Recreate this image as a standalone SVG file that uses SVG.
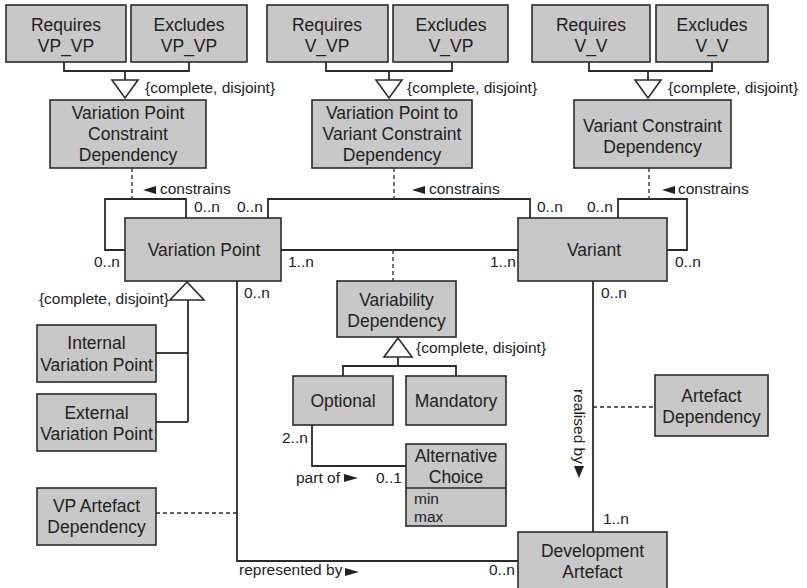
<svg xmlns="http://www.w3.org/2000/svg" width="807" height="588" viewBox="0 0 807 588">
<style>
.box{fill:#c8c8c8;stroke:#2b2b2b;stroke-width:1.6}
.t{font-family:"Liberation Sans",Arial,sans-serif;font-size:17.5px;fill:#222;text-anchor:middle}
.s{font-family:"Liberation Sans",Arial,sans-serif;font-size:15.5px;fill:#222}
.ln{fill:none;stroke:#2b2b2b;stroke-width:1.8}
.dash{fill:none;stroke:#2b2b2b;stroke-width:1.3;stroke-dasharray:4 3}
.tri{fill:#fff;stroke:#2b2b2b;stroke-width:1.6}
.arr{fill:#222}
</style>
<rect width="807" height="588" fill="#fff"/>
<g id="connectors">
<polyline class="ln" points="64,62 64,71 189,71 189,62"/>
<line class="ln" x1="125" y1="71" x2="125" y2="80"/>
<polygon class="tri" points="112,80 138,80 125,98"/>
<polyline class="ln" points="326,62 326,71 452,71 452,62"/>
<line class="ln" x1="389" y1="71" x2="389" y2="80"/>
<polygon class="tri" points="376,80 402,80 389,98"/>
<polyline class="ln" points="589,62 589,71 712,71 712,62"/>
<line class="ln" x1="648" y1="71" x2="648" y2="80"/>
<polygon class="tri" points="635,80 661,80 648,98"/>
<line class="dash" x1="132" y1="168" x2="132" y2="199"/>
<line class="dash" x1="394" y1="168" x2="394" y2="199"/>
<line class="dash" x1="649" y1="168" x2="649" y2="199"/>
<line class="dash" x1="393" y1="250" x2="393" y2="281"/>
<line class="dash" x1="156" y1="513" x2="237" y2="513"/>
<line class="dash" x1="593" y1="407" x2="655" y2="407"/>
<polyline class="ln" points="186,218 186,199 105,199 105,250 125,250"/>
<polyline class="ln" points="268,218 268,199 530,199 530,218"/>
<line class="ln" x1="281" y1="250" x2="518" y2="250"/>
<polyline class="ln" points="618,218 618,199 687,199 687,250 667,250"/>
<polygon class="tri" points="187,282 170,300 204,300"/>
<line class="ln" x1="188" y1="300" x2="188" y2="422"/>
<line class="ln" x1="156" y1="353" x2="188" y2="353"/>
<line class="ln" x1="156" y1="422" x2="188" y2="422"/>
<polyline class="ln" points="237,281 237,561 518,561"/>
<line class="ln" x1="593" y1="281" x2="593" y2="532"/>
<polygon class="tri" points="398,338 384,357 412,357"/>
<line class="ln" x1="398" y1="357" x2="398" y2="366"/>
<polyline class="ln" points="343,376 343,366 456,366 456,376"/>
<polyline class="ln" points="312,425 312,466 406,466"/>
<text class="s" x="145" y="93">{complete, disjoint}</text>
<text class="s" x="407" y="93">{complete, disjoint}</text>
<text class="s" x="668" y="93">{complete, disjoint}</text>
<text class="s" x="169" y="304" text-anchor="end">{complete, disjoint}</text>
<text class="s" x="416" y="353">{complete, disjoint}</text>
<polygon class="arr" points="143,190 156,186 156,194"/>
<text class="s" x="160" y="194">constrains</text>
<polygon class="arr" points="412,190 425,186 425,194"/>
<text class="s" x="429" y="194">constrains</text>
<polygon class="arr" points="662,190 675,186 675,194"/>
<text class="s" x="678" y="194">constrains</text>
<text class="s" x="194" y="212">0..n</text>
<text class="s" x="237" y="212">0..n</text>
<text class="s" x="94" y="267">0..n</text>
<text class="s" x="288" y="267">1..n</text>
<text class="s" x="490" y="267">1..n</text>
<text class="s" x="537" y="212">0..n</text>
<text class="s" x="587" y="212">0..n</text>
<text class="s" x="675" y="267">0..n</text>
<text class="s" x="244" y="298">0..n</text>
<text class="s" x="601" y="298">0..n</text>
<text class="s" x="282" y="443">2..n</text>
<text class="s" x="376" y="483">0..1</text>
<text class="s" x="296" y="483">part of</text>
<polygon class="arr" points="344,474 344,482 358,478"/>
<text class="s" x="603" y="524">1..n</text>
<text class="s" x="489" y="575">0..n</text>
<text class="s" x="239" y="575">represented by</text>
<polygon class="arr" points="345,568 345,576 359,572"/>
<text class="s" transform="translate(574,389) rotate(90)">realised by</text>
<polygon class="arr" points="574,466 584,466 579,478"/>
</g>
<g id="requires-vp-vp"><rect class="box" x="6" y="5" width="120" height="57"/><text class="t" x="66" y="31">Requires</text><text class="t" x="66" y="52">VP_VP</text></g>
<g id="excludes-vp-vp"><rect class="box" x="131" y="5" width="116" height="57"/><text class="t" x="189" y="31">Excludes</text><text class="t" x="189" y="52">VP_VP</text></g>
<g id="requires-v-vp"><rect class="box" x="267" y="5" width="121" height="57"/><text class="t" x="327" y="31">Requires</text><text class="t" x="327" y="52">V_VP</text></g>
<g id="excludes-v-vp"><rect class="box" x="393" y="5" width="115" height="57"/><text class="t" x="451" y="31">Excludes</text><text class="t" x="451" y="52">V_VP</text></g>
<g id="requires-v-v"><rect class="box" x="532" y="5" width="118" height="57"/><text class="t" x="591" y="31">Requires</text><text class="t" x="591" y="52">V_V</text></g>
<g id="excludes-v-v"><rect class="box" x="656" y="5" width="112" height="57"/><text class="t" x="712" y="31">Excludes</text><text class="t" x="712" y="52">V_V</text></g>
<g id="vp-constraint-dependency"><rect class="box" x="50" y="100" width="156" height="68"/><text class="t" x="128" y="119">Variation Point</text><text class="t" x="128" y="140">Constraint</text><text class="t" x="128" y="161">Dependency</text></g>
<g id="vp-variant-constraint-dependency"><rect class="box" x="312" y="100" width="160" height="68"/><text class="t" x="392" y="119">Variation Point to</text><text class="t" x="392" y="140">Variant Constraint</text><text class="t" x="392" y="161">Dependency</text></g>
<g id="variant-constraint-dependency"><rect class="box" x="574" y="100" width="157" height="68"/><text class="t" x="652.5" y="132">Variant Constraint</text><text class="t" x="652.5" y="153">Dependency</text></g>
<g id="variation-point"><rect class="box" x="125" y="218" width="156" height="63"/><text class="t" x="204" y="256">Variation Point</text></g>
<g id="variant"><rect class="box" x="518" y="218" width="149" height="63"/><text class="t" x="594" y="256">Variant</text></g>
<g id="variability-dependency"><rect class="box" x="337" y="281" width="119" height="56"/><text class="t" x="396.5" y="306">Variability</text><text class="t" x="396.5" y="327">Dependency</text></g>
<g id="optional"><rect class="box" x="293" y="376" width="100" height="49"/><text class="t" x="343" y="407">Optional</text></g>
<g id="mandatory"><rect class="box" x="406" y="376" width="100" height="49"/><text class="t" x="456" y="407">Mandatory</text></g>
<g id="alternative-choice"><rect class="box" x="406" y="444" width="100" height="82"/><line class="ln" x1="406" y1="488" x2="506" y2="488" style="stroke-width:1.4"/><text class="t" x="456" y="462">Alternative</text><text class="t" x="456" y="483">Choice</text><text class="s" x="414" y="504">min</text><text class="s" x="414" y="522">max</text></g>
<g id="internal-vp"><rect class="box" x="37" y="325" width="119" height="57"/><text class="t" x="96.5" y="349">Internal</text><text class="t" x="96.5" y="371">Variation Point</text></g>
<g id="external-vp"><rect class="box" x="37" y="394" width="119" height="57"/><text class="t" x="96.5" y="419">External</text><text class="t" x="96.5" y="440">Variation Point</text></g>
<g id="vp-artefact-dependency"><rect class="box" x="37" y="488" width="119" height="57"/><text class="t" x="96.5" y="512">VP Artefact</text><text class="t" x="96.5" y="533">Dependency</text></g>
<g id="artefact-dependency"><rect class="box" x="655" y="375" width="113" height="61"/><text class="t" x="711.5" y="402">Artefact</text><text class="t" x="711.5" y="423">Dependency</text></g>
<g id="development-artefact"><rect class="box" x="518" y="532" width="149" height="62"/><text class="t" x="592.5" y="557">Development</text><text class="t" x="592.5" y="578">Artefact</text></g>
</svg>
